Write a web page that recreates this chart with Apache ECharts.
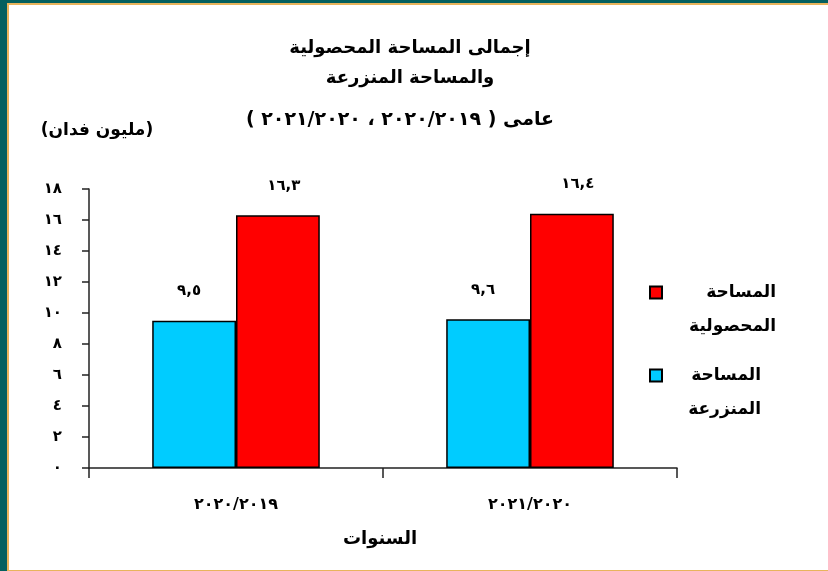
<!DOCTYPE html>
<html lang="ar">
<head>
<meta charset="utf-8">
<script src="https://cdn.jsdelivr.net/npm/echarts@6/dist/echarts.min.js"></script>
<style>
  html, body { margin: 0; padding: 0; width: 828px; height: 571px; overflow: hidden; background: #03605f; }
  #frame {
    position: absolute; left: 7px; top: 3px; width: 819px; height: 565px;
    background: #ffffff;
    border-top: 2px solid #e8b45c; border-left: 2px solid #e8b45c; border-bottom: 2px solid #e8b45c;
  }
  #chart { position: absolute; left: 0; top: 0; width: 828px; height: 571px; }
</style>
</head>
<body>
<div id="frame"></div>
<div id="chart" dir="rtl"></div>
<script>
// Seasons (RLM around the slash keeps the right-to-left year order)
const categories = ['٢٠١٩\u200F/\u200F٢٠٢٠', '٢٠٢٠\u200F/\u200F٢٠٢١'];
// Cultivated area, million feddans
const cultivatedArea = [9.5, 9.6];
// Cropped area, million feddans
const croppedArea = [16.3, 16.4];
// Value-axis tick labels, 0..18 step 2
const yTickLabels = ['٠', '٢', '٤', '٦', '٨', '١٠', '١٢', '١٤', '١٦', '١٨'];

const seriesNames = ['المساحة المنزرعة', 'المساحة المحصولية'];
const titleLines = ['إجمالى المساحة المحصولية', 'والمساحة المنزرعة'];
const subTitle = 'عامى ( ٢٠١٩\u200F/\u200F٢٠٢٠ ، ٢٠٢٠\u200F/\u200F٢٠٢١ )';
const unitName = '(مليون فدان)';
const xName = 'السنوات';

const FONT = '"DejaVu Sans", "Noto Sans", sans-serif';
const arabicDigits = '٠١٢٣٤٥٦٧٨٩';
function toArabic(v) {
  return String(v).replace('.', ',').replace(/\d/g, d => arabicDigits[+d]);
}

const LINE_H = 34;
// One legend per series so each entry can sit at its own height;
// top padding puts the icon level with the first text line.
function legendFor(name, styleKey, iconCenterY) {
  return {
    data: [name],
    orient: 'vertical',
    left: 649,
    top: iconCenterY - 6,
    padding: 0,
    itemWidth: 12,
    itemHeight: 12,
    icon: 'rect',
    formatter: n => n.split(' ').map(w => '{' + styleKey + '|' + w + '}').join('\n'),
    textStyle: {
      padding: [LINE_H, 0, 0, 0],
      rich: {
        r: { width: 109, align: 'right', fontFamily: FONT, fontWeight: 'bold', fontSize: 17, lineHeight: LINE_H, color: '#000' },
        b: { width: 94, align: 'right', fontFamily: FONT, fontWeight: 'bold', fontSize: 17, lineHeight: LINE_H, color: '#000' }
      }
    }
  };
}

const chart = echarts.init(document.getElementById('chart'), null, { renderer: 'canvas' });
chart.setOption({
  animation: false,
  backgroundColor: 'transparent',
  title: [
    {
      text: titleLines.join('\n'),
      left: 410,
      top: 33,
      textAlign: 'center',
      padding: 0,
      textStyle: { fontFamily: FONT, fontWeight: 'bold', fontSize: 18, lineHeight: 30, color: '#000' }
    },
    {
      text: subTitle,
      left: 400,
      top: 105,
      textAlign: 'center',
      padding: 0,
      textStyle: { fontFamily: FONT, fontWeight: 'bold', fontSize: 19, lineHeight: 30, color: '#000' }
    }
  ],
  legend: [
    legendFor(seriesNames[1], 'r', 290),
    legendFor(seriesNames[0], 'b', 373)
  ],
  grid: { left: 89, right: 151, top: 189, bottom: 103, containLabel: false },
  xAxis: {
    type: 'category',
    data: categories,
    name: xName,
    nameLocation: 'middle',
    nameGap: 62,
    nameTextStyle: { fontFamily: FONT, fontWeight: 'bold', fontSize: 18, color: '#000', padding: [0, 6, 0, 0] },
    axisLine: { lineStyle: { color: '#222', width: 1.5 } },
    axisTick: { show: true, length: 10, alignWithLabel: false, lineStyle: { color: '#222', width: 1.5 } },
    axisLabel: { margin: 29, fontFamily: FONT, fontWeight: 'bold', fontSize: 16, color: '#000' },
    splitLine: { show: false }
  },
  yAxis: {
    type: 'value',
    min: 0,
    max: 18,
    interval: 2,
    name: unitName,
    nameLocation: 'end',
    nameGap: 58,
    nameTextStyle: { fontFamily: FONT, fontWeight: 'bold', fontSize: 17, color: '#000', align: 'center', verticalAlign: 'middle', padding: [0, 0, 0, 16] },
    axisLine: { show: true, lineStyle: { color: '#222', width: 1.5 } },
    axisTick: { show: true, length: 7, lineStyle: { color: '#222', width: 1.5 } },
    axisLabel: {
      margin: 27,
      fontFamily: FONT, fontWeight: 'bold', fontSize: 15, color: '#000',
      formatter: v => yTickLabels[Math.round(v / 2)]
    },
    splitLine: { show: false }
  },
  series: [
    {
      name: seriesNames[0],
      type: 'bar',
      data: cultivatedArea,
      barGap: '0%',
      barCategoryGap: '43%',
      itemStyle: { color: '#00ccff', borderColor: '#000', borderWidth: 1.5 },
      label: {
        show: true, position: 'top', distance: 22, offset: [-5, 0],
        fontFamily: FONT, fontWeight: 'bold', fontSize: 15, color: '#000',
        formatter: p => toArabic(p.value)
      }
    },
    {
      name: seriesNames[1],
      type: 'bar',
      data: croppedArea,
      barGap: '0%',
      barCategoryGap: '43%',
      itemStyle: { color: '#ff0000', borderColor: '#000', borderWidth: 1.5 },
      label: {
        show: true, position: 'top', distance: 22, offset: [6, 0],
        fontFamily: FONT, fontWeight: 'bold', fontSize: 15, color: '#000',
        formatter: p => toArabic(p.value)
      }
    }
  ]
});
</script>
</body>
</html>
